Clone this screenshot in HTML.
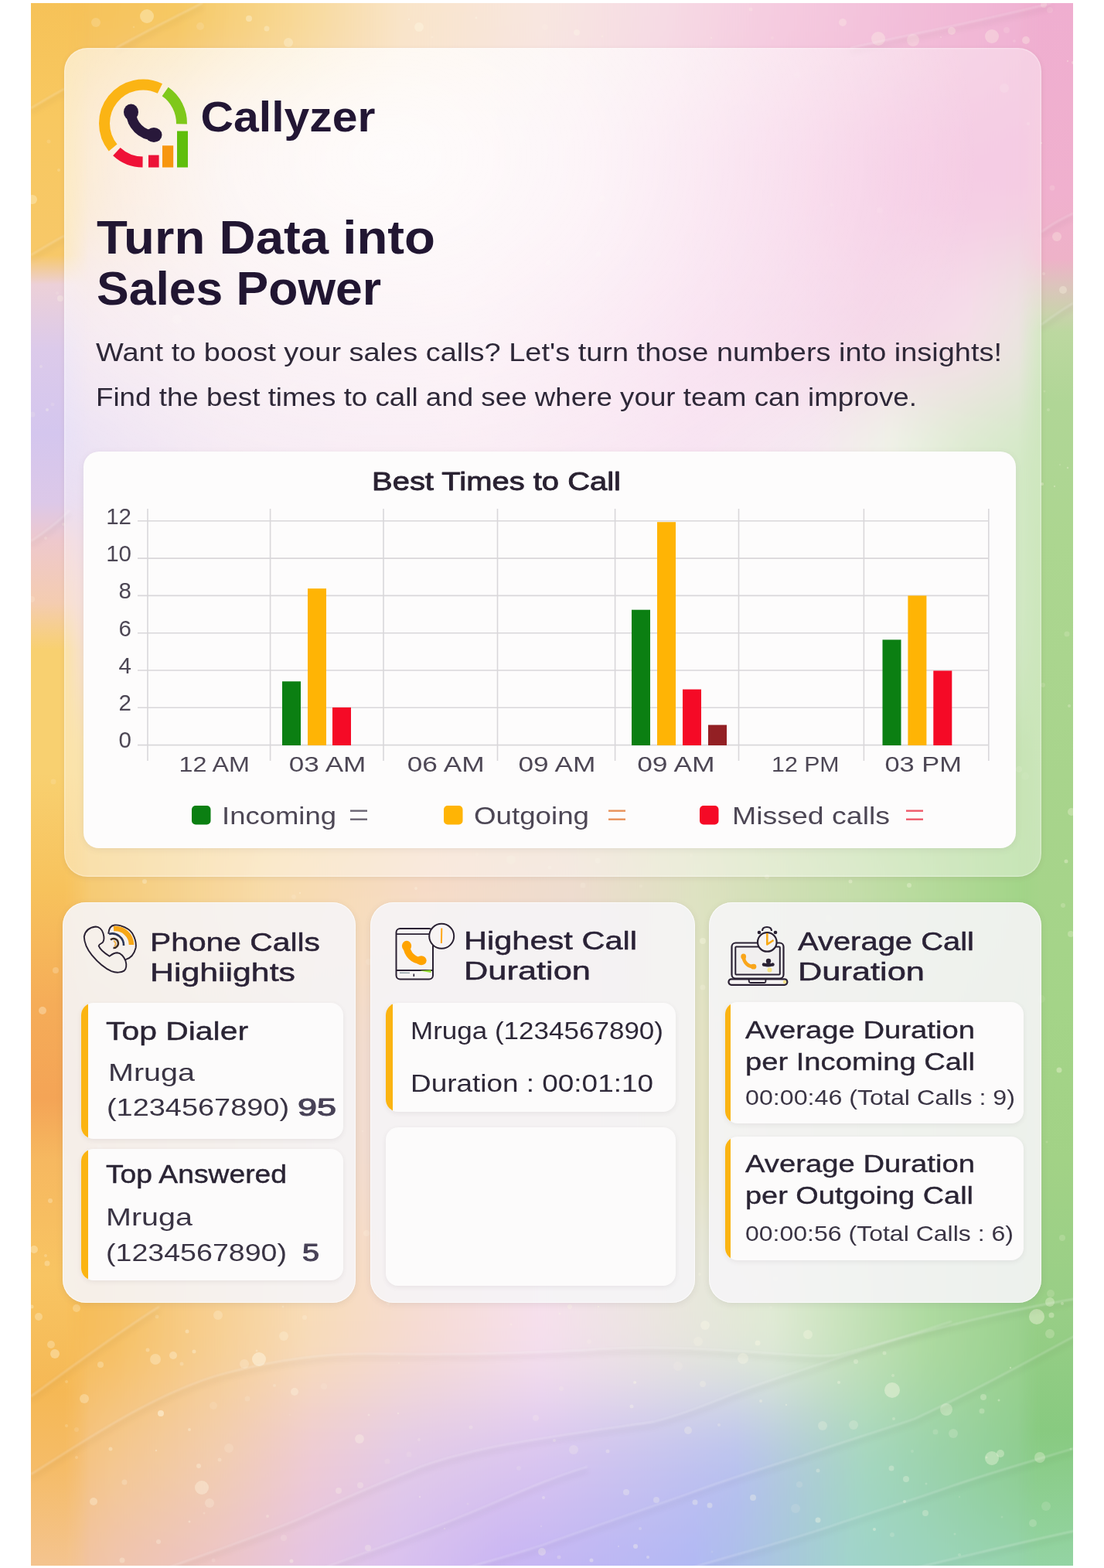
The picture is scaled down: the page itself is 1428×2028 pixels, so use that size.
<!DOCTYPE html>
<html><head><meta charset="utf-8"><title>Callyzer</title>
<style>
html,body{margin:0;padding:0;background:#fff}
body{width:1428px;height:2028px;position:relative;overflow:hidden;font-family:"Liberation Sans",Arial,sans-serif}

#bg{position:absolute;left:40px;top:4px;width:1348px;height:2021px;overflow:hidden;background:#f4c9a8}


.card{position:absolute;box-sizing:border-box}
#main{left:83px;top:62px;width:1264px;height:1072px;border-radius:30px;background:radial-gradient(ellipse 760px 560px at 420px 140px, rgba(255,255,255,0.78), rgba(255,255,255,0.35) 60%, rgba(255,255,255,0) 100%) rgba(255,255,255,0.40);
 box-shadow:0 2px 6px rgba(120,100,80,0.12), inset 0 0 0 1.5px rgba(255,255,255,0.25)}
#chart{left:108px;top:584px;width:1206px;height:513px;border-radius:20px;background:#fdfcfc;
 box-shadow:0 2px 8px rgba(100,90,90,0.10)}
.oc{top:1167px;height:518px;border-radius:30px;background:rgba(245,244,246,0.91);
 box-shadow:0 2px 8px rgba(100,90,90,0.12), inset 0 0 0 1px rgba(255,255,255,0.6)}
#c1{left:81px;width:379px}
#c2{left:479px;width:420px}
#c3{left:917px;width:430px}
.ic{background:#fcfbfb;border-radius:16px;box-shadow:0 2px 6px rgba(90,80,90,0.09);overflow:hidden}
.ic.bar::before{content:"";position:absolute;left:0;top:0;bottom:0;width:var(--bw,9px);background:#fbb412}

</style></head><body>
<div id="bg"><svg width="1348" height="2021" viewBox="40 4 1348 2021" style="position:absolute;left:0;top:0"><defs><filter id="blur" x="-300" y="-600" width="2100" height="3300" filterUnits="userSpaceOnUse"><feGaussianBlur stdDeviation="0 55"/></filter><linearGradient id="r0" gradientUnits="userSpaceOnUse" x1="40" y1="0" x2="1388" y2="0"><stop offset="0.0000" stop-color="#f5bf55"/><stop offset="0.1409" stop-color="#f6c862"/><stop offset="0.2522" stop-color="#f8d894"/><stop offset="0.3561" stop-color="#f9e4c8"/><stop offset="0.4896" stop-color="#f8e6e0"/><stop offset="0.6009" stop-color="#f6dce4"/><stop offset="0.7122" stop-color="#f5cce0"/><stop offset="0.8605" stop-color="#f2bcd8"/><stop offset="1.0000" stop-color="#efaed0"/></linearGradient><linearGradient id="r1" gradientUnits="userSpaceOnUse" x1="40" y1="0" x2="1388" y2="0"><stop offset="0.0000" stop-color="#f5c460"/><stop offset="0.0816" stop-color="#f4cca4"/><stop offset="0.1929" stop-color="#f4dcd8"/><stop offset="0.3783" stop-color="#f8e4e4"/><stop offset="0.5267" stop-color="#f6d8e6"/><stop offset="0.6751" stop-color="#f2bcdc"/><stop offset="0.8234" stop-color="#f0acd4"/><stop offset="1.0000" stop-color="#eea8d0"/></linearGradient><linearGradient id="r2" gradientUnits="userSpaceOnUse" x1="40" y1="0" x2="1388" y2="0"><stop offset="0.0000" stop-color="#e8cce0"/><stop offset="0.1929" stop-color="#f0d8e0"/><stop offset="0.4154" stop-color="#f6dce8"/><stop offset="0.6380" stop-color="#f2c0e0"/><stop offset="0.8012" stop-color="#eeb8d8"/><stop offset="0.8976" stop-color="#f0c8dc"/><stop offset="1.0000" stop-color="#d0dcc0"/></linearGradient><linearGradient id="r3" gradientUnits="userSpaceOnUse" x1="40" y1="0" x2="1388" y2="0"><stop offset="0.0000" stop-color="#d4c4ec"/><stop offset="0.1929" stop-color="#ecd4e8"/><stop offset="0.4154" stop-color="#f4d8e8"/><stop offset="0.6380" stop-color="#f2cce6"/><stop offset="0.7493" stop-color="#f0dce8"/><stop offset="0.8234" stop-color="#e4ecd8"/><stop offset="0.8976" stop-color="#c4e0b0"/><stop offset="1.0000" stop-color="#a8d690"/></linearGradient><linearGradient id="r4" gradientUnits="userSpaceOnUse" x1="40" y1="0" x2="1388" y2="0"><stop offset="0.0000" stop-color="#efc8c4"/><stop offset="0.1929" stop-color="#f2d4d0"/><stop offset="0.4154" stop-color="#f0d8dc"/><stop offset="0.6380" stop-color="#ecdce0"/><stop offset="0.8234" stop-color="#d4e4c4"/><stop offset="1.0000" stop-color="#a8d690"/></linearGradient><linearGradient id="r5" gradientUnits="userSpaceOnUse" x1="40" y1="0" x2="1388" y2="0"><stop offset="0.0000" stop-color="#f7cf6c"/><stop offset="0.1929" stop-color="#f6d490"/><stop offset="0.4154" stop-color="#f2d8c0"/><stop offset="0.6380" stop-color="#dcdcb8"/><stop offset="0.8234" stop-color="#b4d894"/><stop offset="1.0000" stop-color="#9cd07c"/></linearGradient><linearGradient id="r6" gradientUnits="userSpaceOnUse" x1="40" y1="0" x2="1388" y2="0"><stop offset="0.0000" stop-color="#f6c460"/><stop offset="0.1187" stop-color="#f6d088"/><stop offset="0.2300" stop-color="#f8dcac"/><stop offset="0.3783" stop-color="#f6dcc8"/><stop offset="0.5193" stop-color="#eedcd0"/><stop offset="0.6380" stop-color="#dee2c2"/><stop offset="0.7864" stop-color="#c6deac"/><stop offset="0.9347" stop-color="#a6d68c"/><stop offset="1.0000" stop-color="#98d080"/></linearGradient><linearGradient id="r7" gradientUnits="userSpaceOnUse" x1="40" y1="0" x2="1388" y2="0"><stop offset="0.0000" stop-color="#f2a450"/><stop offset="0.1558" stop-color="#f4c480"/><stop offset="0.3190" stop-color="#f2dcd0"/><stop offset="0.4896" stop-color="#eedcd4"/><stop offset="0.6439" stop-color="#e4e2c4"/><stop offset="0.8234" stop-color="#b8d898"/><stop offset="1.0000" stop-color="#90cd72"/></linearGradient><linearGradient id="r8" gradientUnits="userSpaceOnUse" x1="40" y1="0" x2="1388" y2="0"><stop offset="0.0000" stop-color="#f5b84c"/><stop offset="0.0816" stop-color="#f6c062"/><stop offset="0.1558" stop-color="#f7cc88"/><stop offset="0.2671" stop-color="#f8dcb8"/><stop offset="0.3783" stop-color="#f6dcd4"/><stop offset="0.4896" stop-color="#f6e0ec"/><stop offset="0.7122" stop-color="#e0ead4"/><stop offset="0.8605" stop-color="#aedaa0"/><stop offset="1.0000" stop-color="#90cc84"/></linearGradient><linearGradient id="r9" gradientUnits="userSpaceOnUse" x1="40" y1="0" x2="1388" y2="0"><stop offset="0.0000" stop-color="#f5bc68"/><stop offset="0.0816" stop-color="#f4c890"/><stop offset="0.1780" stop-color="#f2cdb0"/><stop offset="0.2671" stop-color="#eecad4"/><stop offset="0.3561" stop-color="#e2cae8"/><stop offset="0.4896" stop-color="#d8c4f0"/><stop offset="0.6751" stop-color="#b8c0f0"/><stop offset="0.8012" stop-color="#a4d6c0"/><stop offset="1.0000" stop-color="#86ca80"/></linearGradient><linearGradient id="r10" gradientUnits="userSpaceOnUse" x1="40" y1="0" x2="1388" y2="0"><stop offset="0.0000" stop-color="#f4c490"/><stop offset="0.0816" stop-color="#f0c4b0"/><stop offset="0.1780" stop-color="#ecc4c8"/><stop offset="0.2671" stop-color="#e4c4e4"/><stop offset="0.3561" stop-color="#d8c0f0"/><stop offset="0.4525" stop-color="#c8b4f4"/><stop offset="0.6380" stop-color="#b0b8f4"/><stop offset="0.7864" stop-color="#a0d4cc"/><stop offset="1.0000" stop-color="#94d4a4"/></linearGradient></defs><g filter="url(#blur)"><rect x="-200" y="-300" width="1900" height="427.0" fill="url(#r0)"/><rect x="-200" y="127.0" width="1900" height="208.0" fill="url(#r1)"/><rect x="-200" y="335.0" width="1900" height="175.0" fill="url(#r2)"/><rect x="-200" y="510.0" width="1900" height="190.0" fill="url(#r3)"/><rect x="-200" y="700.0" width="1900" height="200.0" fill="url(#r4)"/><rect x="-200" y="900.0" width="1900" height="175.0" fill="url(#r5)"/><rect x="-200" y="1075.0" width="1900" height="200.0" fill="url(#r6)"/><rect x="-200" y="1275.0" width="1900" height="290.0" fill="url(#r7)"/><rect x="-200" y="1565.0" width="1900" height="250.0" fill="url(#r8)"/><rect x="-200" y="1815.0" width="1900" height="147.5" fill="url(#r9)"/><rect x="-200" y="1962.5" width="1900" height="437.5" fill="url(#r10)"/></g><defs><linearGradient id="lst" gradientUnits="userSpaceOnUse" x1="0" y1="0" x2="0" y2="2028"><stop offset="0.0000" stop-color="#f6c258"/><stop offset="0.0740" stop-color="#f8c860"/><stop offset="0.1627" stop-color="#f7c868"/><stop offset="0.1815" stop-color="#ecd0d8"/><stop offset="0.2219" stop-color="#dccaea"/><stop offset="0.2761" stop-color="#d4c6ee"/><stop offset="0.3205" stop-color="#dcc8e8"/><stop offset="0.3452" stop-color="#eec8cc"/><stop offset="0.3846" stop-color="#f4ccb0"/><stop offset="0.4142" stop-color="#f8d070"/><stop offset="0.4931" stop-color="#f8d070"/><stop offset="0.5671" stop-color="#f7c25c"/><stop offset="0.6410" stop-color="#f5ac58"/><stop offset="0.7002" stop-color="#f4a456"/><stop offset="0.7396" stop-color="#f6b860"/><stop offset="0.8136" stop-color="#f8c462"/><stop offset="0.8876" stop-color="#f5b855"/><stop offset="0.9369" stop-color="#f5bc68"/><stop offset="1.0000" stop-color="#f4c490"/></linearGradient><linearGradient id="rst" gradientUnits="userSpaceOnUse" x1="0" y1="0" x2="0" y2="2028"><stop offset="0.0000" stop-color="#efaed0"/><stop offset="0.1233" stop-color="#f0b0ce"/><stop offset="0.1652" stop-color="#eeb2c8"/><stop offset="0.1824" stop-color="#dcc4bc"/><stop offset="0.1997" stop-color="#cad2ac"/><stop offset="0.2120" stop-color="#bcd8a0"/><stop offset="0.2564" stop-color="#b0d696"/><stop offset="0.3452" stop-color="#acd690"/><stop offset="0.4931" stop-color="#a8d48c"/><stop offset="0.6410" stop-color="#a4d488"/><stop offset="0.7396" stop-color="#a2d286"/><stop offset="0.8383" stop-color="#98ce86"/><stop offset="0.9122" stop-color="#88ca80"/><stop offset="1.0000" stop-color="#94d4a4"/></linearGradient><linearGradient id="lm" x1="0" x2="1" y1="0" y2="0"><stop offset="0" stop-color="#fff"/><stop offset="0.44" stop-color="#fff"/><stop offset="0.75" stop-color="#fff" stop-opacity="0"/></linearGradient><linearGradient id="rm" x1="0" x2="1" y1="0" y2="0"><stop offset="0.3" stop-color="#fff" stop-opacity="0"/><stop offset="0.58" stop-color="#fff"/><stop offset="1" stop-color="#fff"/></linearGradient><mask id="lmask" maskUnits="userSpaceOnUse" x="40" y="0" width="100" height="2028"><rect x="40" y="0" width="100" height="2028" fill="url(#lm)"/></mask><mask id="rmask" maskUnits="userSpaceOnUse" x="1288" y="0" width="100" height="2028"><rect x="1288" y="0" width="100" height="2028" fill="url(#rm)"/></mask></defs><rect x="40" y="0" width="100" height="2028" fill="url(#lst)" mask="url(#lmask)"/><rect x="1288" y="0" width="100" height="2028" fill="url(#rst)" mask="url(#rmask)"/><g fill="#fffbe8"><circle cx="604" cy="490" r="5" fill-opacity="0.11"/><circle cx="575" cy="1977" r="1.2" fill-opacity="0.25"/><circle cx="957" cy="868" r="3" fill-opacity="0.11"/><circle cx="1361" cy="243" r="3.5" fill-opacity="0.16"/><circle cx="501" cy="1890" r="3.5" fill-opacity="0.13"/><circle cx="941" cy="1549" r="6" fill-opacity="0.15"/><circle cx="1172" cy="1913" r="4" fill-opacity="0.28"/><circle cx="128" cy="1482" r="2.5" fill-opacity="0.13"/><circle cx="1076" cy="265" r="2" fill-opacity="0.11"/><circle cx="709" cy="340" r="3.5" fill-opacity="0.12"/><circle cx="1144" cy="1750" r="2.5" fill-opacity="0.28"/><circle cx="1370" cy="1384" r="3.5" fill-opacity="0.34"/><circle cx="538" cy="1149" r="2" fill-opacity="0.28"/><circle cx="735" cy="1252" r="1.2" fill-opacity="0.11"/><circle cx="180" cy="1286" r="1.2" fill-opacity="0.08"/><circle cx="685" cy="1403" r="5" fill-opacity="0.06"/><circle cx="484" cy="455" r="2" fill-opacity="0.15"/><circle cx="1374" cy="1601" r="4" fill-opacity="0.18"/><circle cx="974" cy="1937" r="4" fill-opacity="0.31"/><circle cx="674" cy="687" r="4" fill-opacity="0.13"/><circle cx="930" cy="1843" r="2" fill-opacity="0.23"/><circle cx="281" cy="1599" r="3" fill-opacity="0.07"/><circle cx="1154" cy="1985" r="3" fill-opacity="0.16"/><circle cx="779" cy="47" r="1.5" fill-opacity="0.24"/><circle cx="774" cy="1690" r="1.2" fill-opacity="0.33"/><circle cx="1155" cy="1779" r="2" fill-opacity="0.24"/><circle cx="746" cy="42" r="4" fill-opacity="0.30"/><circle cx="1309" cy="1417" r="2.5" fill-opacity="0.17"/><circle cx="205" cy="1574" r="3" fill-opacity="0.08"/><circle cx="1374" cy="1686" r="2" fill-opacity="0.28"/><circle cx="1380" cy="820" r="3.5" fill-opacity="0.17"/><circle cx="469" cy="1463" r="1.2" fill-opacity="0.20"/><circle cx="609" cy="1846" r="2.5" fill-opacity="0.21"/><circle cx="63" cy="183" r="2.5" fill-opacity="0.14"/><circle cx="786" cy="1877" r="2.5" fill-opacity="0.26"/><circle cx="284" cy="1888" r="2.5" fill-opacity="0.24"/><circle cx="318" cy="905" r="2" fill-opacity="0.09"/><circle cx="1381" cy="79" r="1.2" fill-opacity="0.29"/><circle cx="927" cy="1318" r="4" fill-opacity="0.12"/><circle cx="1348" cy="626" r="2" fill-opacity="0.35"/><circle cx="502" cy="1686" r="2" fill-opacity="0.21"/><circle cx="1226" cy="875" r="1.2" fill-opacity="0.07"/><circle cx="1336" cy="1970" r="5" fill-opacity="0.19"/><circle cx="86" cy="1787" r="2" fill-opacity="0.20"/><circle cx="41" cy="775" r="4" fill-opacity="0.18"/><circle cx="924" cy="506" r="1.2" fill-opacity="0.07"/><circle cx="1367" cy="306" r="6" fill-opacity="0.27"/><circle cx="99" cy="1692" r="5" fill-opacity="0.26"/><circle cx="899" cy="1943" r="3.5" fill-opacity="0.31"/><circle cx="44" cy="1616" r="5" fill-opacity="0.33"/><circle cx="661" cy="1713" r="1.5" fill-opacity="0.23"/><circle cx="1379" cy="1114" r="2.5" fill-opacity="0.34"/><circle cx="1302" cy="39" r="4" fill-opacity="0.14"/><circle cx="723" cy="2014" r="2.5" fill-opacity="0.21"/><circle cx="1276" cy="1885" r="1.5" fill-opacity="0.25"/><circle cx="231" cy="1063" r="3" fill-opacity="0.08"/><circle cx="726" cy="1796" r="3" fill-opacity="0.17"/><circle cx="1250" cy="986" r="1.2" fill-opacity="0.08"/><circle cx="203" cy="674" r="3" fill-opacity="0.15"/><circle cx="202" cy="1876" r="1.2" fill-opacity="0.33"/><circle cx="431" cy="756" r="3.5" fill-opacity="0.10"/><circle cx="143" cy="1874" r="2.5" fill-opacity="0.32"/><circle cx="1349" cy="886" r="3" fill-opacity="0.16"/><circle cx="543" cy="1936" r="1.2" fill-opacity="0.31"/><circle cx="890" cy="1850" r="5" fill-opacity="0.25"/><circle cx="1356" cy="530" r="2" fill-opacity="0.19"/><circle cx="715" cy="1645" r="5" fill-opacity="0.09"/><circle cx="1383" cy="913" r="2" fill-opacity="0.25"/><circle cx="388" cy="1155" r="1.2" fill-opacity="0.29"/><circle cx="719" cy="1276" r="2" fill-opacity="0.07"/><circle cx="558" cy="1309" r="3.5" fill-opacity="0.17"/><circle cx="1217" cy="48" r="1.2" fill-opacity="0.22"/><circle cx="1294" cy="1880" r="5" fill-opacity="0.32"/><circle cx="1351" cy="506" r="1.5" fill-opacity="0.17"/><circle cx="245" cy="1968" r="1.5" fill-opacity="0.34"/><circle cx="42" cy="258" r="6" fill-opacity="0.33"/><circle cx="765" cy="2018" r="2.5" fill-opacity="0.34"/><circle cx="909" cy="1790" r="4" fill-opacity="0.24"/><circle cx="69" cy="1011" r="3.5" fill-opacity="0.14"/><circle cx="438" cy="1928" r="4" fill-opacity="0.26"/><circle cx="121" cy="799" r="3" fill-opacity="0.14"/><circle cx="670" cy="634" r="3.5" fill-opacity="0.16"/><circle cx="542" cy="1862" r="2" fill-opacity="0.19"/><circle cx="586" cy="763" r="4" fill-opacity="0.07"/><circle cx="1312" cy="53" r="2" fill-opacity="0.14"/><circle cx="1005" cy="945" r="3.5" fill-opacity="0.15"/><circle cx="1138" cy="272" r="4" fill-opacity="0.08"/><circle cx="774" cy="329" r="3.5" fill-opacity="0.16"/><circle cx="397" cy="174" r="1.5" fill-opacity="0.11"/><circle cx="1350" cy="354" r="2" fill-opacity="0.22"/><circle cx="203" cy="1703" r="2.5" fill-opacity="0.18"/><circle cx="379" cy="501" r="5" fill-opacity="0.09"/><circle cx="921" cy="2007" r="1.5" fill-opacity="0.12"/><circle cx="436" cy="245" r="2" fill-opacity="0.13"/><circle cx="1388" cy="81" r="2" fill-opacity="0.31"/><circle cx="65" cy="1553" r="3" fill-opacity="0.27"/><circle cx="259" cy="34" r="5" fill-opacity="0.15"/><circle cx="130" cy="780" r="2" fill-opacity="0.09"/><circle cx="99" cy="1849" r="3" fill-opacity="0.13"/><circle cx="1288" cy="788" r="6" fill-opacity="0.14"/><circle cx="903" cy="1735" r="6" fill-opacity="0.21"/><circle cx="1017" cy="1817" r="1.2" fill-opacity="0.32"/><circle cx="72" cy="1255" r="4" fill-opacity="0.23"/><circle cx="642" cy="1254" r="4" fill-opacity="0.16"/><circle cx="868" cy="1404" r="1.5" fill-opacity="0.08"/><circle cx="703" cy="1937" r="2" fill-opacity="0.28"/><circle cx="477" cy="1244" r="4" fill-opacity="0.15"/><circle cx="717" cy="1863" r="2" fill-opacity="0.26"/><circle cx="257" cy="1896" r="3" fill-opacity="0.33"/><circle cx="1197" cy="1957" r="4" fill-opacity="0.25"/><circle cx="822" cy="1788" r="1.5" fill-opacity="0.18"/><circle cx="762" cy="1735" r="3" fill-opacity="0.18"/><circle cx="1375" cy="1171" r="3" fill-opacity="0.20"/><circle cx="1145" cy="517" r="6" fill-opacity="0.17"/><circle cx="920" cy="49" r="1.2" fill-opacity="0.25"/><circle cx="59" cy="1624" r="2" fill-opacity="0.22"/><circle cx="55" cy="1307" r="5" fill-opacity="0.33"/><circle cx="375" cy="1830" r="1.2" fill-opacity="0.13"/><circle cx="74" cy="379" r="2" fill-opacity="0.13"/><circle cx="1090" cy="29" r="5" fill-opacity="0.27"/><circle cx="905" cy="1648" r="2" fill-opacity="0.24"/><circle cx="276" cy="2018" r="2.5" fill-opacity="0.17"/><circle cx="1292" cy="1811" r="1.5" fill-opacity="0.32"/><circle cx="61" cy="530" r="2" fill-opacity="0.31"/><circle cx="850" cy="771" r="5" fill-opacity="0.11"/><circle cx="980" cy="1737" r="3.5" fill-opacity="0.34"/><circle cx="355" cy="1792" r="2" fill-opacity="0.21"/><circle cx="829" cy="1146" r="2" fill-opacity="0.15"/><circle cx="76" cy="220" r="2" fill-opacity="0.20"/><circle cx="1210" cy="1852" r="3.5" fill-opacity="0.14"/><circle cx="317" cy="230" r="1.2" fill-opacity="0.17"/><circle cx="68" cy="523" r="2.5" fill-opacity="0.13"/><circle cx="1064" cy="1844" r="6" fill-opacity="0.24"/><circle cx="332" cy="1747" r="1.5" fill-opacity="0.25"/><circle cx="1358" cy="13" r="4" fill-opacity="0.14"/><circle cx="977" cy="1672" r="4" fill-opacity="0.13"/><circle cx="701" cy="2007" r="5" fill-opacity="0.30"/><circle cx="886" cy="723" r="3.5" fill-opacity="0.17"/><circle cx="617" cy="1105" r="2" fill-opacity="0.10"/><circle cx="1354" cy="1477" r="1.5" fill-opacity="0.16"/><circle cx="1028" cy="883" r="2" fill-opacity="0.07"/><circle cx="419" cy="1793" r="4" fill-opacity="0.13"/><circle cx="367" cy="1728" r="6" fill-opacity="0.26"/><circle cx="912" cy="1714" r="6" fill-opacity="0.32"/><circle cx="984" cy="1812" r="2" fill-opacity="0.30"/><circle cx="66" cy="1739" r="5" fill-opacity="0.28"/><circle cx="700" cy="1974" r="1.2" fill-opacity="0.18"/><circle cx="1375" cy="375" r="5" fill-opacity="0.30"/><circle cx="205" cy="1994" r="3" fill-opacity="0.27"/><circle cx="449" cy="813" r="5" fill-opacity="0.17"/><circle cx="779" cy="257" r="4" fill-opacity="0.10"/><circle cx="529" cy="1881" r="3.5" fill-opacity="0.13"/><circle cx="1156" cy="1835" r="2" fill-opacity="0.24"/><circle cx="693" cy="1834" r="4" fill-opacity="0.18"/><circle cx="605" cy="1945" r="1.5" fill-opacity="0.16"/><circle cx="486" cy="645" r="2.5" fill-opacity="0.07"/><circle cx="158" cy="2018" r="3.5" fill-opacity="0.29"/><circle cx="1104" cy="1843" r="6" fill-opacity="0.21"/><circle cx="90" cy="1569" r="1.2" fill-opacity="0.10"/><circle cx="1100" cy="1140" r="2.5" fill-opacity="0.32"/><circle cx="1299" cy="114" r="6" fill-opacity="0.12"/><circle cx="616" cy="23" r="1.5" fill-opacity="0.35"/><circle cx="887" cy="1437" r="4" fill-opacity="0.14"/><circle cx="849" cy="1940" r="4" fill-opacity="0.26"/><circle cx="466" cy="1921" r="4" fill-opacity="0.23"/><circle cx="264" cy="1957" r="1.5" fill-opacity="0.20"/><circle cx="909" cy="1277" r="3.5" fill-opacity="0.23"/><circle cx="1358" cy="1684" r="6" fill-opacity="0.31"/><circle cx="828" cy="1977" r="2" fill-opacity="0.21"/><circle cx="42" cy="536" r="3.5" fill-opacity="0.16"/><circle cx="1241" cy="2011" r="2" fill-opacity="0.18"/><circle cx="1364" cy="629" r="1.2" fill-opacity="0.28"/><circle cx="316" cy="1764" r="6" fill-opacity="0.23"/><circle cx="805" cy="533" r="2.5" fill-opacity="0.11"/><circle cx="538" cy="1430" r="4" fill-opacity="0.17"/><circle cx="161" cy="648" r="2" fill-opacity="0.13"/><circle cx="515" cy="1828" r="1.2" fill-opacity="0.31"/><circle cx="1058" cy="1902" r="2.5" fill-opacity="0.26"/><circle cx="207" cy="977" r="2" fill-opacity="0.11"/><circle cx="1272" cy="1807" r="4" fill-opacity="0.28"/><circle cx="543" cy="1518" r="4" fill-opacity="0.17"/><circle cx="559" cy="48" r="1.5" fill-opacity="0.22"/><circle cx="235" cy="1764" r="2.5" fill-opacity="0.22"/><circle cx="373" cy="55" r="6" fill-opacity="0.31"/><circle cx="690" cy="314" r="5" fill-opacity="0.07"/><circle cx="1058" cy="1966" r="3.5" fill-opacity="0.35"/><circle cx="1385" cy="1874" r="1.5" fill-opacity="0.21"/><circle cx="1079" cy="1442" r="2" fill-opacity="0.13"/><circle cx="129" cy="1485" r="3.5" fill-opacity="0.16"/><circle cx="739" cy="707" r="2.5" fill-opacity="0.16"/><circle cx="705" cy="35" r="4" fill-opacity="0.15"/><circle cx="1296" cy="1962" r="1.5" fill-opacity="0.15"/><circle cx="1003" cy="1654" r="3" fill-opacity="0.15"/><circle cx="817" cy="1819" r="2.5" fill-opacity="0.32"/><circle cx="1326" cy="1004" r="5" fill-opacity="0.06"/><circle cx="178" cy="510" r="1.2" fill-opacity="0.06"/><circle cx="1153" cy="1899" r="3.5" fill-opacity="0.28"/><circle cx="845" cy="1222" r="1.2" fill-opacity="0.11"/><circle cx="1176" cy="1145" r="3" fill-opacity="0.31"/><circle cx="516" cy="1763" r="1.2" fill-opacity="0.20"/><circle cx="344" cy="854" r="3.5" fill-opacity="0.15"/><circle cx="398" cy="1375" r="2.5" fill-opacity="0.13"/><circle cx="121" cy="1942" r="5" fill-opacity="0.33"/><circle cx="1233" cy="1854" r="6" fill-opacity="0.19"/><circle cx="661" cy="1112" r="6" fill-opacity="0.11"/><circle cx="82" cy="678" r="2" fill-opacity="0.24"/><circle cx="1371" cy="601" r="1.2" fill-opacity="0.16"/><circle cx="130" cy="1765" r="4" fill-opacity="0.27"/><circle cx="737" cy="1690" r="3" fill-opacity="0.29"/><circle cx="229" cy="413" r="6" fill-opacity="0.16"/><circle cx="1072" cy="1188" r="4" fill-opacity="0.11"/><circle cx="242" cy="1722" r="2.5" fill-opacity="0.32"/><circle cx="474" cy="1595" r="4" fill-opacity="0.21"/><circle cx="353" cy="1665" r="3" fill-opacity="0.10"/><circle cx="1170" cy="1942" r="2" fill-opacity="0.34"/><circle cx="1241" cy="1936" r="1.2" fill-opacity="0.13"/><circle cx="1386" cy="1050" r="5" fill-opacity="0.29"/><circle cx="1359" cy="1673" r="5" fill-opacity="0.16"/><circle cx="924" cy="600" r="3" fill-opacity="0.15"/><circle cx="1237" cy="855" r="2" fill-opacity="0.12"/><circle cx="320" cy="1809" r="3.5" fill-opacity="0.16"/><circle cx="971" cy="12" r="2.5" fill-opacity="0.21"/><circle cx="173" cy="35" r="1.2" fill-opacity="0.17"/><circle cx="711" cy="1122" r="2.5" fill-opacity="0.16"/><circle cx="1318" cy="995" r="4" fill-opacity="0.13"/><circle cx="124" cy="29" r="6" fill-opacity="0.19"/><circle cx="1198" cy="1919" r="1.5" fill-opacity="0.20"/><circle cx="99" cy="1885" r="2" fill-opacity="0.19"/><circle cx="1235" cy="1984" r="1.5" fill-opacity="0.18"/><circle cx="999" cy="49" r="2" fill-opacity="0.14"/><circle cx="918" cy="1947" r="3.5" fill-opacity="0.31"/><circle cx="1014" cy="766" r="6" fill-opacity="0.08"/><circle cx="721" cy="463" r="4" fill-opacity="0.14"/><circle cx="1385" cy="1208" r="4" fill-opacity="0.26"/><circle cx="187" cy="1140" r="3" fill-opacity="0.31"/><circle cx="1141" cy="810" r="3" fill-opacity="0.11"/><circle cx="1085" cy="1788" r="2" fill-opacity="0.34"/><circle cx="282" cy="1701" r="6" fill-opacity="0.23"/><circle cx="742" cy="1875" r="6" fill-opacity="0.20"/><circle cx="41" cy="1690" r="2.5" fill-opacity="0.33"/><circle cx="161" cy="1917" r="3.5" fill-opacity="0.22"/><circle cx="1347" cy="1292" r="5" fill-opacity="0.09"/><circle cx="994" cy="1191" r="2" fill-opacity="0.10"/><circle cx="1360" cy="1701" r="3.5" fill-opacity="0.31"/><circle cx="1180" cy="1877" r="2" fill-opacity="0.14"/><circle cx="1153" cy="651" r="3" fill-opacity="0.08"/><circle cx="887" cy="1661" r="3.5" fill-opacity="0.16"/><circle cx="1347" cy="185" r="1.2" fill-opacity="0.32"/><circle cx="686" cy="445" r="3" fill-opacity="0.06"/><circle cx="476" cy="935" r="5" fill-opacity="0.16"/><circle cx="1353" cy="1948" r="6" fill-opacity="0.14"/><circle cx="810" cy="1930" r="4" fill-opacity="0.27"/><circle cx="224" cy="1753" r="5" fill-opacity="0.32"/><circle cx="78" cy="386" r="4" fill-opacity="0.28"/><circle cx="754" cy="1145" r="3.5" fill-opacity="0.18"/><circle cx="346" cy="1961" r="2" fill-opacity="0.25"/><circle cx="191" cy="1746" r="2.5" fill-opacity="0.27"/><circle cx="724" cy="1699" r="1.5" fill-opacity="0.26"/><circle cx="271" cy="1944" r="6" fill-opacity="0.23"/><circle cx="542" cy="35" r="6" fill-opacity="0.34"/><circle cx="660" cy="248" r="2" fill-opacity="0.11"/><circle cx="877" cy="1767" r="6" fill-opacity="0.15"/><circle cx="1034" cy="1920" r="4" fill-opacity="0.13"/><circle cx="86" cy="1844" r="2" fill-opacity="0.18"/><circle cx="377" cy="2019" r="2.5" fill-opacity="0.34"/><circle cx="59" cy="696" r="2" fill-opacity="0.23"/><circle cx="909" cy="1217" r="4" fill-opacity="0.34"/><circle cx="671" cy="1899" r="3" fill-opacity="0.12"/><circle cx="821" cy="679" r="1.2" fill-opacity="0.09"/><circle cx="476" cy="2002" r="4" fill-opacity="0.24"/><circle cx="380" cy="1160" r="3" fill-opacity="0.14"/><circle cx="296" cy="1873" r="6" fill-opacity="0.16"/><circle cx="822" cy="2000" r="3" fill-opacity="0.34"/><circle cx="276" cy="1818" r="5" fill-opacity="0.13"/><circle cx="1029" cy="1951" r="6" fill-opacity="0.13"/><circle cx="294" cy="1089" r="1.2" fill-opacity="0.13"/><circle cx="1307" cy="1769" r="1.2" fill-opacity="0.33"/><circle cx="800" cy="2000" r="1.2" fill-opacity="0.22"/><circle cx="997" cy="1691" r="2" fill-opacity="0.14"/><circle cx="504" cy="1379" r="5" fill-opacity="0.08"/><circle cx="992" cy="1134" r="3" fill-opacity="0.24"/><circle cx="1131" cy="1978" r="2" fill-opacity="0.35"/><circle cx="1307" cy="743" r="2" fill-opacity="0.16"/><circle cx="367" cy="1989" r="4" fill-opacity="0.17"/><circle cx="1270" cy="1825" r="3.5" fill-opacity="0.23"/><circle cx="477" cy="1830" r="1.5" fill-opacity="0.27"/><circle cx="61" cy="1634" r="3.5" fill-opacity="0.28"/><circle cx="513" cy="465" r="3.5" fill-opacity="0.11"/><circle cx="251" cy="1748" r="2.5" fill-opacity="0.34"/><circle cx="821" cy="1788" r="2" fill-opacity="0.32"/><circle cx="1031" cy="97" r="4" fill-opacity="0.08"/><circle cx="1381" cy="605" r="1.2" fill-opacity="0.31"/><circle cx="245" cy="1849" r="2" fill-opacity="0.33"/><circle cx="575" cy="841" r="3.5" fill-opacity="0.16"/><circle cx="894" cy="1106" r="1.5" fill-opacity="0.12"/><circle cx="1330" cy="160" r="2" fill-opacity="0.16"/><circle cx="529" cy="25" r="1.2" fill-opacity="0.27"/><circle cx="773" cy="1113" r="3.5" fill-opacity="0.17"/><circle cx="244" cy="1542" r="3.5" fill-opacity="0.15"/><circle cx="1350" cy="6" r="4" fill-opacity="0.24"/><circle cx="838" cy="2014" r="2" fill-opacity="0.31"/><circle cx="1107" cy="1761" r="3" fill-opacity="0.28"/><circle cx="570" cy="1068" r="6" fill-opacity="0.14"/><circle cx="394" cy="1704" r="3" fill-opacity="0.24"/><circle cx="272" cy="1665" r="4" fill-opacity="0.08"/><circle cx="366" cy="1690" r="1.5" fill-opacity="0.24"/><circle cx="1358" cy="1725" r="6" fill-opacity="0.21"/><circle cx="53" cy="474" r="2" fill-opacity="0.21"/><circle cx="190" cy="21" r="9" fill-opacity="0.35"/><circle cx="322" cy="24" r="4" fill-opacity="0.35"/><circle cx="345" cy="37" r="3.5" fill-opacity="0.3"/><circle cx="1136" cy="50" r="9" fill-opacity="0.3"/><circle cx="1181" cy="52" r="8" fill-opacity="0.25"/><circle cx="1231" cy="40" r="5" fill-opacity="0.3"/><circle cx="1283" cy="47" r="9" fill-opacity="0.3"/><circle cx="1327" cy="52" r="5" fill-opacity="0.3"/><circle cx="335" cy="1758" r="9" fill-opacity="0.45"/><circle cx="208" cy="1828" r="4" fill-opacity="0.5"/><circle cx="261" cy="1924" r="9" fill-opacity="0.35"/><circle cx="71" cy="1751" r="6" fill-opacity="0.35"/><circle cx="109" cy="1809" r="6" fill-opacity="0.3"/><circle cx="50" cy="1703" r="5" fill-opacity="0.3"/><circle cx="201" cy="1758" r="7" fill-opacity="0.3"/><circle cx="381" cy="1800" r="5" fill-opacity="0.3"/><circle cx="465" cy="1861" r="6" fill-opacity="0.3"/><circle cx="1154" cy="1798" r="10" fill-opacity="0.4"/><circle cx="1341" cy="1703" r="10" fill-opacity="0.4"/><circle cx="1224" cy="1823" r="8" fill-opacity="0.3"/><circle cx="1283" cy="1886" r="9" fill-opacity="0.35"/><circle cx="961" cy="1757" r="7" fill-opacity="0.3"/><circle cx="1045" cy="1726" r="6" fill-opacity="0.3"/><circle cx="1345" cy="1885" r="7" fill-opacity="0.3"/></g><g fill="none" stroke="#ffffff" stroke-opacity="0.3" stroke-width="1.8" style="filter:blur(0.8px)"><path d="M40,1806 C90,1770 150,1725 206,1690"/><path d="M40,1907 C100,1870 200,1800 292,1776 C360,1758 420,1750 494,1751 C560,1752 650,1752 760,1746 C900,1735 1050,1760 1086,1752 C1180,1725 1300,1695 1390,1680"/><path d="M216,2028 C280,2005 340,1985 393,1962 C450,1935 500,1915 544,1897 C620,1870 700,1860 845,1839 C900,1825 940,1805 966,1796 C1020,1777 1150,1735 1231,1709"/><path d="M418,2028 C480,2005 540,1985 595,1962 C650,1940 700,1915 760,1897"/><path d="M600,2028 C650,2015 680,2005 700,1999 C780,1970 840,1950 893,1931 C950,1910 1000,1895 1038,1883 C1090,1865 1140,1850 1183,1835 C1260,1800 1330,1760 1390,1728"/><path d="M893,2028 C960,2008 1030,1990 1086,1970 C1140,1952 1190,1937 1231,1922 C1290,1902 1340,1888 1390,1873"/><path d="M1183,2028 C1250,2012 1320,1995 1390,1980"/><path d="M40,140 C60,128 72,121 83,115"/><path d="M150,62 C190,40 230,20 262,4"/><path d="M40,330 C60,318 72,311 83,305"/><path d="M40,700 C70,680 80,670 90,660"/><path d="M1100,62 C1200,40 1300,20 1360,4"/><path d="M1347,300 C1360,290 1375,282 1388,276"/><path d="M1347,420 C1360,410 1375,400 1388,392"/></g><g fill="none" stroke="#000000" stroke-opacity="0.035" stroke-width="6" transform="translate(0,5)" style="filter:blur(3px)"><path d="M40,1806 C90,1770 150,1725 206,1690"/><path d="M40,1907 C100,1870 200,1800 292,1776 C360,1758 420,1750 494,1751 C560,1752 650,1752 760,1746 C900,1735 1050,1760 1086,1752 C1180,1725 1300,1695 1390,1680"/><path d="M216,2028 C280,2005 340,1985 393,1962 C450,1935 500,1915 544,1897 C620,1870 700,1860 845,1839 C900,1825 940,1805 966,1796 C1020,1777 1150,1735 1231,1709"/><path d="M418,2028 C480,2005 540,1985 595,1962 C650,1940 700,1915 760,1897"/><path d="M600,2028 C650,2015 680,2005 700,1999 C780,1970 840,1950 893,1931 C950,1910 1000,1895 1038,1883 C1090,1865 1140,1850 1183,1835 C1260,1800 1330,1760 1390,1728"/><path d="M893,2028 C960,2008 1030,1990 1086,1970 C1140,1952 1190,1937 1231,1922 C1290,1902 1340,1888 1390,1873"/><path d="M1183,2028 C1250,2012 1320,1995 1390,1980"/><path d="M40,140 C60,128 72,121 83,115"/><path d="M150,62 C190,40 230,20 262,4"/><path d="M40,330 C60,318 72,311 83,305"/><path d="M40,700 C70,680 80,670 90,660"/><path d="M1100,62 C1200,40 1300,20 1360,4"/><path d="M1347,300 C1360,290 1375,282 1388,276"/><path d="M1347,420 C1360,410 1375,400 1388,392"/></g></svg></div>

<div id="main" class="card"></div>
<div id="chart" class="card"></div>
<div id="c1" class="card oc"></div>
<div id="c2" class="card oc"></div>
<div id="c3" class="card oc"></div>
<div class="card ic bar" style="left:105px;top:1297px;width:339px;height:176px"></div>
<div class="card ic bar" style="left:105px;top:1486px;width:339px;height:170px"></div>
<div class="card ic bar" style="left:499px;top:1297px;width:375px;height:141px"></div>
<div class="card ic" style="left:499px;top:1458px;width:375px;height:205px"></div>
<div class="card ic bar" style="left:938px;top:1296px;width:386px;height:157px;--bw:7px"></div>
<div class="card ic bar" style="left:938px;top:1470px;width:386px;height:160px;--bw:7px"></div>

<svg id="ov" width="1428" height="2028" viewBox="0 0 1428 2028" style="position:absolute;left:0;top:0" font-family="'Liberation Sans', Arial, sans-serif"><path d="M146.14,190.97 A50,50 0 0 1 206.92,114.56" stroke="#fbb414" stroke-width="14" fill="none"/>
<path d="M213.68,118.54 A50,50 0 0 1 234.99,160.37" stroke="#7fc81a" stroke-width="14" fill="none"/>
<path d="M184.56,209.50 A50,50 0 0 1 150.90,196.07" stroke="#ef1237" stroke-width="14" fill="none"/>
<rect x="229" y="169.5" width="14" height="47" fill="#5fbe0c"/>
<rect x="210" y="188.3" width="14.2" height="28.2" fill="#f7960f"/>
<rect x="192" y="200.6" width="13.6" height="15.9" fill="#ec1337"/>
<path d="M169.5,146 A30.5,30.5 0 0 0 199,175" stroke="#28183a" stroke-width="13" fill="none"/>
<ellipse cx="169.5" cy="145" rx="9.5" ry="10.5" fill="#28183a"/>
<ellipse cx="199" cy="174.5" rx="10.5" ry="9.5" fill="#28183a"/>
<text x="259.5" y="170.3" font-size="55" font-weight="700" fill="#221634" text-anchor="start" textLength="226" lengthAdjust="spacingAndGlyphs">Callyzer</text>
<text x="125" y="327.5" font-size="62" font-weight="700" fill="#211632" text-anchor="start" textLength="438" lengthAdjust="spacingAndGlyphs">Turn Data into</text>
<text x="125" y="393.5" font-size="62" font-weight="700" fill="#211632" text-anchor="start" textLength="368" lengthAdjust="spacingAndGlyphs">Sales Power</text>
<text x="124" y="467" font-size="33" font-weight="400" fill="#2e2838" text-anchor="start" textLength="1172" lengthAdjust="spacingAndGlyphs">Want to boost your sales calls? Let's turn those numbers into insights!</text>
<text x="124" y="525" font-size="33" font-weight="400" fill="#2e2838" text-anchor="start" textLength="1062" lengthAdjust="spacingAndGlyphs">Find the best times to call and see where your team can improve.</text>
<text x="481" y="634.3" font-size="34" font-weight="400" fill="#2a2232" text-anchor="start" textLength="322" lengthAdjust="spacingAndGlyphs" stroke="#2a2232" stroke-width="0.9" stroke-linejoin="round">Best Times to Call</text>
<line x1="178" y1="963.6" x2="1279" y2="963.6" stroke="#d9d7da" stroke-width="1.6"/>
<text x="170" y="967.4" font-size="29.5" font-weight="400" fill="#4d4755" text-anchor="end">0</text>
<line x1="178" y1="915.3" x2="1279" y2="915.3" stroke="#d9d7da" stroke-width="1.6"/>
<text x="170" y="919.1" font-size="29.5" font-weight="400" fill="#4d4755" text-anchor="end">2</text>
<line x1="178" y1="867.0" x2="1279" y2="867.0" stroke="#d9d7da" stroke-width="1.6"/>
<text x="170" y="870.8" font-size="29.5" font-weight="400" fill="#4d4755" text-anchor="end">4</text>
<line x1="178" y1="818.7" x2="1279" y2="818.7" stroke="#d9d7da" stroke-width="1.6"/>
<text x="170" y="822.5" font-size="29.5" font-weight="400" fill="#4d4755" text-anchor="end">6</text>
<line x1="178" y1="770.4" x2="1279" y2="770.4" stroke="#d9d7da" stroke-width="1.6"/>
<text x="170" y="774.2" font-size="29.5" font-weight="400" fill="#4d4755" text-anchor="end">8</text>
<line x1="178" y1="722.1" x2="1279" y2="722.1" stroke="#d9d7da" stroke-width="1.6"/>
<text x="170" y="725.9" font-size="29.5" font-weight="400" fill="#4d4755" text-anchor="end">10</text>
<line x1="178" y1="673.8" x2="1279" y2="673.8" stroke="#d9d7da" stroke-width="1.6"/>
<text x="170" y="677.6" font-size="29.5" font-weight="400" fill="#4d4755" text-anchor="end">12</text>
<line x1="191" y1="658" x2="191" y2="984" stroke="#d9d7da" stroke-width="1.6"/>
<line x1="349.6" y1="658" x2="349.6" y2="984" stroke="#d9d7da" stroke-width="1.6"/>
<line x1="496" y1="658" x2="496" y2="984" stroke="#d9d7da" stroke-width="1.6"/>
<line x1="643.5" y1="658" x2="643.5" y2="984" stroke="#d9d7da" stroke-width="1.6"/>
<line x1="795.6" y1="658" x2="795.6" y2="984" stroke="#d9d7da" stroke-width="1.6"/>
<line x1="955.5" y1="658" x2="955.5" y2="984" stroke="#d9d7da" stroke-width="1.6"/>
<line x1="1117.4" y1="658" x2="1117.4" y2="984" stroke="#d9d7da" stroke-width="1.6"/>
<line x1="1278.8" y1="658" x2="1278.8" y2="984" stroke="#d9d7da" stroke-width="1.6"/>
<text x="277.2" y="998" font-size="28.5" font-weight="400" fill="#4d4755" text-anchor="middle" textLength="91.5" lengthAdjust="spacingAndGlyphs">12 AM</text>
<text x="423.6" y="998" font-size="28.5" font-weight="400" fill="#4d4755" text-anchor="middle" textLength="99.5" lengthAdjust="spacingAndGlyphs">03 AM</text>
<text x="576.7" y="998" font-size="28.5" font-weight="400" fill="#4d4755" text-anchor="middle" textLength="100" lengthAdjust="spacingAndGlyphs">06 AM</text>
<text x="720.5" y="998" font-size="28.5" font-weight="400" fill="#4d4755" text-anchor="middle" textLength="100" lengthAdjust="spacingAndGlyphs">09 AM</text>
<text x="874.4" y="998" font-size="28.5" font-weight="400" fill="#4d4755" text-anchor="middle" textLength="100.5" lengthAdjust="spacingAndGlyphs">09 AM</text>
<text x="1041.8" y="998" font-size="28.5" font-weight="400" fill="#4d4755" text-anchor="middle" textLength="87.5" lengthAdjust="spacingAndGlyphs">12 PM</text>
<text x="1194.2" y="998" font-size="28.5" font-weight="400" fill="#4d4755" text-anchor="middle" textLength="99.5" lengthAdjust="spacingAndGlyphs">03 PM</text>
<rect x="365" y="881.3" width="24" height="82.7" fill="#0b7f12"/>
<rect x="398" y="761.2" width="24" height="202.8" fill="#ffb405"/>
<rect x="430" y="915" width="24" height="49.0" fill="#f50a26"/>
<rect x="817" y="788.7" width="24" height="175.3" fill="#0b7f12"/>
<rect x="850" y="675.2" width="24" height="288.8" fill="#ffb405"/>
<rect x="883" y="891.6" width="24" height="72.4" fill="#f50a26"/>
<rect x="916" y="937.6" width="24" height="26.4" fill="#932024"/>
<rect x="1141.5" y="827.4" width="24" height="136.6" fill="#0b7f12"/>
<rect x="1174.4" y="770.4" width="24" height="193.6" fill="#ffb405"/>
<rect x="1207.3" y="867.5" width="24" height="96.5" fill="#f50a26"/>
<rect x="248" y="1042" width="24.5" height="24.5" rx="5" fill="#0b7f12"/>
<text x="287" y="1065.5" font-size="32" font-weight="400" fill="#4d4755" text-anchor="start" textLength="148" lengthAdjust="spacingAndGlyphs">Incoming</text>
<rect x="453" y="1047.5" width="22" height="2.4" fill="#6a6472"/><rect x="453" y="1058.5" width="22" height="2.4" fill="#6a6472"/>
<rect x="574" y="1042" width="24.5" height="24.5" rx="5" fill="#ffb405"/>
<text x="613" y="1065.5" font-size="32" font-weight="400" fill="#4d4755" text-anchor="start" textLength="149" lengthAdjust="spacingAndGlyphs">Outgoing</text>
<rect x="787" y="1047.5" width="22" height="2.4" fill="#e8925a"/><rect x="787" y="1058.5" width="22" height="2.4" fill="#e8925a"/>
<rect x="905" y="1042" width="24.5" height="24.5" rx="5" fill="#f50a26"/>
<text x="947" y="1065.5" font-size="32" font-weight="400" fill="#4d4755" text-anchor="start" textLength="204" lengthAdjust="spacingAndGlyphs">Missed calls</text>
<rect x="1172" y="1047.5" width="22" height="2.4" fill="#ee5a6a"/><rect x="1172" y="1058.5" width="22" height="2.4" fill="#ee5a6a"/>
<text x="194" y="1229.5" font-size="34" font-weight="400" fill="#2a2236" text-anchor="start" textLength="220" lengthAdjust="spacingAndGlyphs" stroke="#2a2236" stroke-width="0.5" stroke-linejoin="round">Phone Calls</text>
<text x="194" y="1269" font-size="34" font-weight="400" fill="#2a2236" text-anchor="start" textLength="188" lengthAdjust="spacingAndGlyphs" stroke="#2a2236" stroke-width="0.5" stroke-linejoin="round">Highiights</text>
<text x="600" y="1228" font-size="34" font-weight="400" fill="#2a2236" text-anchor="start" textLength="224" lengthAdjust="spacingAndGlyphs" stroke="#2a2236" stroke-width="0.5" stroke-linejoin="round">Highest Call</text>
<text x="600" y="1267" font-size="34" font-weight="400" fill="#2a2236" text-anchor="start" textLength="164" lengthAdjust="spacingAndGlyphs" stroke="#2a2236" stroke-width="0.5" stroke-linejoin="round">Duration</text>
<text x="1032" y="1229" font-size="34" font-weight="400" fill="#2a2236" text-anchor="start" textLength="228" lengthAdjust="spacingAndGlyphs" stroke="#2a2236" stroke-width="0.5" stroke-linejoin="round">Average Call</text>
<text x="1032" y="1268" font-size="34" font-weight="400" fill="#2a2236" text-anchor="start" textLength="164" lengthAdjust="spacingAndGlyphs" stroke="#2a2236" stroke-width="0.5" stroke-linejoin="round">Duration</text>
<text x="137" y="1345" font-size="34" font-weight="400" fill="#2a2434" text-anchor="start" textLength="184" lengthAdjust="spacingAndGlyphs" stroke="#2a2434" stroke-width="0.45" stroke-linejoin="round">Top Dialer</text>
<text x="140" y="1398" font-size="32" font-weight="400" fill="#3a3444" text-anchor="start" textLength="112" lengthAdjust="spacingAndGlyphs">Mruga</text>
<text x="138" y="1443" font-size="32" font-weight="400" fill="#3a3444" text-anchor="start" textLength="236" lengthAdjust="spacingAndGlyphs">(1234567890)</text>
<text x="385" y="1443" font-size="32" font-weight="400" fill="#484257" text-anchor="start" textLength="50" lengthAdjust="spacingAndGlyphs" stroke="#484257" stroke-width="1.1" stroke-linejoin="round">95</text>
<text x="137" y="1530" font-size="34" font-weight="400" fill="#2a2434" text-anchor="start" textLength="234" lengthAdjust="spacingAndGlyphs" stroke="#2a2434" stroke-width="0.45" stroke-linejoin="round">Top Answered</text>
<text x="137" y="1585" font-size="32" font-weight="400" fill="#3a3444" text-anchor="start" textLength="112" lengthAdjust="spacingAndGlyphs">Mruga</text>
<text x="137" y="1631" font-size="32" font-weight="400" fill="#3a3444" text-anchor="start" textLength="234" lengthAdjust="spacingAndGlyphs">(1234567890)</text>
<text x="391" y="1631" font-size="32" font-weight="400" fill="#484257" text-anchor="start" textLength="22" lengthAdjust="spacingAndGlyphs" stroke="#484257" stroke-width="1.1" stroke-linejoin="round">5</text>
<text x="531" y="1343.5" font-size="31" font-weight="400" fill="#2e2838" text-anchor="start" textLength="327" lengthAdjust="spacingAndGlyphs">Mruga (1234567890)</text>
<text x="531" y="1412" font-size="31" font-weight="400" fill="#2e2838" text-anchor="start" textLength="314" lengthAdjust="spacingAndGlyphs">Duration : 00:01:10</text>
<text x="964" y="1343" font-size="31" font-weight="400" fill="#2a2434" text-anchor="start" textLength="297" lengthAdjust="spacingAndGlyphs" stroke="#2a2434" stroke-width="0.35" stroke-linejoin="round">Average Duration</text>
<text x="964" y="1384" font-size="31" font-weight="400" fill="#2a2434" text-anchor="start" textLength="297" lengthAdjust="spacingAndGlyphs" stroke="#2a2434" stroke-width="0.35" stroke-linejoin="round">per Incoming Call</text>
<text x="964" y="1429" font-size="28" font-weight="400" fill="#3a3444" text-anchor="start" textLength="349" lengthAdjust="spacingAndGlyphs">00:00:46 (Total Calls : 9)</text>
<text x="964" y="1515.5" font-size="31" font-weight="400" fill="#2a2434" text-anchor="start" textLength="297" lengthAdjust="spacingAndGlyphs" stroke="#2a2434" stroke-width="0.35" stroke-linejoin="round">Average Duration</text>
<text x="964" y="1557" font-size="31" font-weight="400" fill="#2a2434" text-anchor="start" textLength="295" lengthAdjust="spacingAndGlyphs" stroke="#2a2434" stroke-width="0.35" stroke-linejoin="round">per Outgoing Call</text>
<text x="964" y="1604.5" font-size="28" font-weight="400" fill="#3a3444" text-anchor="start" textLength="347" lengthAdjust="spacingAndGlyphs">00:00:56 (Total Calls : 6)</text>
<g fill="none" stroke="#2a2133" stroke-width="1.9" stroke-linejoin="round" stroke-linecap="round">
<path d="M108.8,1211.5 C110,1204 116,1199.5 123.9,1198.5 C128,1198.5 132,1202 133.4,1207 C134.6,1211 134.8,1216.5 132.8,1219 C131,1220.5 128.2,1221 127.7,1223.4 C129,1227 134,1232 141.6,1236.7 C144,1235 147,1232.5 151.7,1232.3 C156,1232.5 160.5,1237 162.5,1243 C164,1248 163.5,1253.5 160.5,1255.6 C157,1258 150,1258.5 144.1,1256.2 C136,1252.5 126,1244 118.9,1235.4 C113,1228 109,1220 108.8,1211.5 Z"/>
<path d="M162.4,1241.1 C167,1240 173,1236 175.6,1226 C177,1217 172,1206 166.2,1202 C160,1197.5 152,1195.8 147.9,1196.5 C144,1197 141,1200 140.3,1207"/>
</g>
<path d="M147,1201.2 A21,21 0 0 1 170,1222" stroke="#f7a716" stroke-width="6.5" fill="none"/>
<path d="M141,1208 A15,15 0 0 1 160,1223" stroke="#2b3555" stroke-width="2.6" fill="none"/>
<path d="M143,1215.5 A6,6 0 1 1 146.5,1226" stroke="#3a2a22" stroke-width="2.4" fill="none"/>
<path d="M147,1217 A4,4 0 0 1 148,1224" stroke="#f0b048" stroke-width="2" fill="none"/>
<rect x="512.5" y="1201" width="47.5" height="65.5" rx="5" fill="#f6f3f3" stroke="#2a2133" stroke-width="2"/>
<line x1="513" y1="1208.2" x2="558" y2="1208.2" stroke="#2a2133" stroke-width="1.8"/>
<line x1="513" y1="1255" x2="559" y2="1255" stroke="#2a2133" stroke-width="1.8"/>
<path d="M543,1255.5 L557.5,1254.5 L557.5,1258 Z" fill="#8fd82a"/>
<line x1="517" y1="1258.2" x2="530" y2="1258.4" stroke="#8a9aa0" stroke-width="1.4"/>
<rect x="534.5" y="1259.5" width="1.6" height="3.5" fill="#2a2133"/>
<g transform="translate(535.8,1232.5) scale(0.64) translate(-184.75,-159.25)"><path d="M169.5,146 A30.5,30.5 0 0 0 199,175" stroke="#ffa300" stroke-width="14" fill="none"/><ellipse cx="169.5" cy="145" rx="9.5" ry="10.5" fill="#ffa300"/><ellipse cx="199" cy="174.5" rx="10.5" ry="9.5" fill="#ffa300"/></g>
<circle cx="571.2" cy="1210.8" r="16" fill="#f8f4f4" stroke="#2a2133" stroke-width="2"/>
<line x1="571.3" y1="1200.5" x2="570.9" y2="1220" stroke="#ffa81a" stroke-width="2"/>
<rect x="946.5" y="1219.5" width="67" height="46" rx="5" fill="#f6f4f4" stroke="#2a2133" stroke-width="2.2"/>
<rect x="951.3" y="1224.5" width="57.5" height="36" rx="1" fill="#f1efef" stroke="#2a2133" stroke-width="2"/>
<rect x="942.5" y="1266.3" width="75.8" height="7.5" rx="3.5" fill="#f7f5f5" stroke="#2a2133" stroke-width="2.2"/>
<path d="M968.5,1266.5 L969,1270 Q969.5,1271 971,1271 L988.5,1271 Q990,1271 990.3,1270 L990.5,1266.5" fill="none" stroke="#2a2133" stroke-width="1.8"/>
<circle cx="992.3" cy="1218.4" r="12.3" fill="#f6f3f2" stroke="#2a2133" stroke-width="2.2"/>
<path d="M986,1204 Q986,1199 992,1199 Q998,1199 998,1204" fill="none" stroke="#2a2133" stroke-width="2.2"/>
<circle cx="982" cy="1206" r="2.3" fill="#2a2133"/><circle cx="1003" cy="1206" r="2.3" fill="#2a2133"/>
<path d="M992.3,1207 L992.3,1221.5 L1000.5,1216" fill="none" stroke="#f8a917" stroke-width="2.6" stroke-linejoin="round"/>
<g transform="translate(968.4,1243.5) scale(0.44) translate(-184.75,-159.25)"><path d="M169.5,146 A30.5,30.5 0 0 0 199,175" stroke="#f9a51a" stroke-width="10" fill="none"/><ellipse cx="169.5" cy="145" rx="7.6000000000000005" ry="8.4" fill="#f9a51a"/><ellipse cx="199" cy="174.5" rx="8.4" ry="7.6000000000000005" fill="#f9a51a"/></g>
<circle cx="994" cy="1243" r="3.2" fill="#2a2133"/>
<ellipse cx="993.5" cy="1248" rx="6.8" ry="2.6" fill="#2a2133"/>
<circle cx="988" cy="1247.5" r="2.2" fill="#2a2133"/><circle cx="999.5" cy="1247.5" r="2.2" fill="#2a2133"/>
<circle cx="995.5" cy="1254.5" r="3" fill="#f9e070" fill-opacity="0.85"/>
<circle cx="1015" cy="1270" r="2.2" fill="#f9e070" fill-opacity="0.8"/></svg>
</body></html>
